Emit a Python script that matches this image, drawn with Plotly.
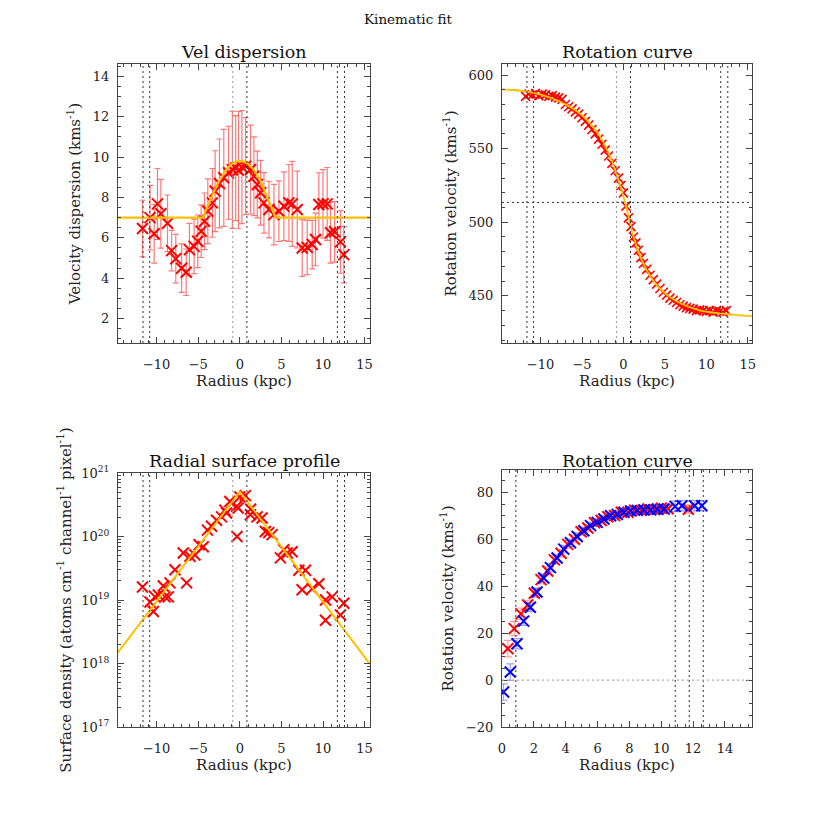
import plotly.graph_objects as go

# ---------------- data ----------------
# Panel 1: velocity dispersion
disp_r = [-11.7, -10.8, -10.3, -9.9, -9.5, -8.7, -8.2, -7.7, -7.0, -6.45, -6.06, -5.5, -5.06, -4.65,
          -4.25, -3.85, -3.3, -2.97, -2.45, -1.93, -1.36, -0.9, -0.5, -0.16, 0.25, 0.69, 1.29, 1.69,
          2.1, 2.5, 2.9, 3.5, 4.1, 4.7, 5.3, 5.9, 6.3, 6.9, 7.5, 8.1, 8.7, 9.1, 9.5, 10.0, 10.5,
          10.9, 11.4, 12.1, 12.5]
disp_v = [6.46, 7.0, 6.2, 7.68, 7.19, 6.72, 5.37, 4.97, 4.5, 4.3, 5.42, 5.58, 5.83, 6.33,
          6.82, 7.32, 7.73, 8.31, 8.69, 8.97, 9.22, 9.37, 9.45, 9.35, 9.5, 9.55, 9.38, 9.05,
          8.64, 8.23, 7.73, 7.4, 7.15, 7.32, 7.56, 7.73, 7.68, 7.4, 5.5, 5.53, 5.67, 5.92, 7.65, 7.68, 7.68,
          6.25, 6.3, 5.8, 5.17]
disp_err = [1.4, 1.6, 1.45, 1.75, 1.7, 1.4, 1.0, 1.2, 1.2, 1.15, 1.3, 1.35, 1.3, 1.3,
            1.4, 1.6, 1.7, 2.0, 2.2, 2.4, 2.3, 2.9, 2.6, 2.9, 2.8, 2.4, 2.2, 1.95,
            1.65, 1.6, 1.5, 1.4, 1.5, 1.5, 1.7, 1.9, 2.1, 1.9, 1.4, 1.35, 1.2, 1.3, 1.57, 1.7, 1.8,
            1.5, 1.5, 1.55, 1.4]
disp_model_r = [-15.0, -4.4, -4.2, -4.0, -3.75, -3.5, -3.0, -2.5, -2.0, -1.5, -1.0, -0.5, 0.0, 0.5, 1.0, 1.5,
                2.0, 2.5, 3.0, 3.5, 3.8, 4.1, 4.3, 16.0]
disp_model_v = [7.0, 7.0, 7.25, 7.45, 7.72, 7.95, 8.4, 8.8, 9.15, 9.45, 9.65, 9.77, 9.8, 9.77, 9.65, 9.45,
                9.15, 8.8, 8.3, 7.8, 7.5, 7.2, 7.0, 7.0]

# Panel 2: rotation curve (line of sight)
rot_r = [-11.8, -11.4, -11.0, -10.6, -10.2, -9.8, -9.4, -9.0, -8.6, -8.2, -7.8, -7.4, -7.0, -6.6,
         -6.2, -5.8, -5.4, -5.0, -4.6, -4.2, -3.8, -3.4, -3.0, -2.6, -2.2, -1.8, -1.4, -1.0, -0.6,
         -0.3, 0.0, 0.3, 0.6, 0.9, 1.2, 1.5, 1.8, 2.1, 2.4, 2.8, 3.2, 3.6, 4.0, 4.4, 4.8, 5.2,
         5.6, 6.0, 6.4, 6.8, 7.2, 7.6, 8.0, 8.4, 8.8, 9.2, 9.6, 10.0, 10.4, 10.8, 11.2, 11.6,
         12.0, 12.4]
rot_v = [585.5, 587.0, 586.5, 587.5, 586.0, 587.0, 586.5, 585.5, 586.0, 585.0, 584.5, 583.5, 580.0, 578.5,
         577.0, 575.0, 573.5, 571.0, 568.5, 566.0, 563.0, 560.0, 556.5, 553.0, 549.0, 545.0, 540.0, 535.0, 530.0,
         525.0, 520.0, 511.0, 503.0, 497.0, 490.0, 486.0, 481.0, 476.0, 472.0, 468.0, 464.0, 461.0, 458.0, 455.0, 452.5, 450.5,
         448.5, 447.0, 445.5, 444.0, 443.0, 442.0, 441.5, 441.0, 440.0, 440.5, 440.0, 439.5, 440.0, 439.0, 440.0, 439.5,
         439.0, 440.0]
rot_model_r = [-14.9, -10.8, -6.8, -4.8, -2.8, -1.6, -0.6, 0.2, 0.8, 1.6, 2.8, 4.4, 6.4, 9.2, 13.2, 15.6]
rot_model_v = [590.3, 587.9, 579.6, 571.7, 558.0, 544.5, 528.6, 513.4, 499.0, 483.3, 467.4, 455.0, 446.3, 440.2, 437.3, 436.2]
v_sys = 513.5

# Panel 3: radial surface profile
surf_r = [-11.7, -10.8, -10.4, -10.2, -9.8, -9.2, -9.0, -8.6, -8.4, -7.8, -6.8, -6.4, -6.0, -5.4,
          -4.9, -4.4, -3.9, -3.4, -2.8, -2.2, -1.6, -1.2, -0.34, -0.2, 0.0, 0.66, 1.27, 2.07,
          2.67, 3.07, 3.88, 4.88, 5.28, 5.7, 6.29, 7.09, 7.49, 7.89, 8.7, 9.5, 10.3, 10.3, 11.1,
          12.1, 12.5, -1.8, -0.38, 1.3, 3.47]
surf_d = [1.6e19, 9.3e18, 6.6e18, 1.12e19, 1.2e19, 1.66e19, 1.12e19, 1.12e19, 1.86e19, 3.0e19, 5.5e19, 1.86e19, 4.9e19, 5.1e19,
          7.4e19, 6.9e19, 1.26e20, 1.45e20, 1.8e20, 2.04e20, 2.34e20, 3.55e20, 1.0e20, 2.8e20, 4.2e20, 4.4e20, 2.2e20, 2.04e20,
          1.95e20, 1.2e20, 1.07e20, 4.6e19, 6.2e19, 5.5e19, 5.75e19, 2.95e19, 1.45e19, 2.95e19, 1.5e19, 1.8e19, 1.0e19, 4.8e18, 1.12e19,
          5.8e18, 8.9e18, 2.6e20, 3.0e20, 2.7e20, 1.15e20]
surf_model_r = [-14.67, 0.0, 15.64]
surf_model_d = [1.48e18, 5.1e20, 9.8e17]

# Panel 4: folded rotation curve, two sides
red_r = [0.37, 0.77, 1.19, 1.61, 2.03, 2.45, 2.87, 3.29, 3.71, 4.13, 4.55, 4.97, 5.39, 5.81, 6.23,
         6.65, 7.07, 7.49, 7.91, 8.33, 8.75, 9.17, 9.59, 10.01, 10.43, 11.7]
red_v = [13.4, 21.9, 28.2, 32.0, 37.0, 42.8, 46.5, 51.2, 54.0, 57.8, 60.0, 63.2, 64.8, 67.0, 68.0,
         69.6, 70.1, 71.5, 71.5, 72.4, 72.3, 72.9, 72.6, 73.2, 73.0, 72.8]
red_err = [3.5, 3.0, 2.5, 2.0, 1.8, 1.8, 1.7, 1.7, 1.6, 1.6, 1.6, 1.5, 1.5, 1.5, 1.5,
           1.5, 1.5, 1.5, 1.5, 1.5, 1.5, 1.5, 1.5, 1.5, 1.5, 1.8]
blue_r = [0.1, 0.52, 0.94, 1.36, 1.78, 2.2, 2.62, 3.04, 3.46, 3.88, 4.3, 4.72, 5.14, 5.56, 5.98,
          6.4, 6.82, 7.24, 7.66, 8.08, 8.5, 8.92, 9.34, 9.76, 10.18, 10.87, 11.3, 12.1, 12.55]
blue_v = [-5.1, 3.4, 15.5, 25.1, 31.0, 37.5, 43.5, 47.9, 52.0, 55.8, 58.5, 61.2, 63.6, 65.8, 67.2,
          68.6, 70.0, 70.6, 71.5, 72.1, 72.3, 72.5, 72.5, 72.8, 72.9, 74.0, 74.3, 74.3, 74.3]
blue_err = [3.5, 3.5, 2.2, 1.8, 1.8, 1.7, 1.7, 1.7, 1.6, 1.6, 1.6, 1.5, 1.5, 1.5, 1.5,
            1.5, 1.5, 1.5, 1.5, 1.5, 1.5, 1.5, 1.5, 1.5, 1.5, 2.2, 2.2, 2.2, 2.2]

vlines_full = [-11.64, -10.84, -0.85, 0.85, 11.73, 12.58]
vlines_half = [0.87, 10.88, 11.76, 12.64]

# ---------------- figure ----------------
FONT = "DejaVu Serif"
RED = "#ff0000"
ORANGE = "#ffc000"
BLUE = "#0000ff"

fig = go.Figure()

def xs(i):
    return dict(xaxis=f"x{i}" if i > 1 else "x", yaxis=f"y{i}" if i > 1 else "y")

# panel 1
fig.add_trace(go.Scatter(x=disp_r, y=disp_v, mode="markers",
                         error_y=dict(type="data", array=disp_err, color="rgba(255,30,30,0.6)", thickness=1.2, width=3),
                         marker=dict(symbol="x-thin", size=11, line=dict(width=2, color=RED), color=RED),
                         **xs(1)))
fig.add_trace(go.Scatter(x=disp_model_r, y=disp_model_v, mode="lines",
                         line=dict(color=ORANGE, width=2.2), **xs(1)))
# panel 2
fig.add_trace(go.Scatter(x=rot_r, y=rot_v, mode="markers",
                         marker=dict(symbol="x-thin", size=9, line=dict(width=1.6, color=RED), color=RED),
                         **xs(2)))
fig.add_trace(go.Scatter(x=rot_model_r, y=rot_model_v, mode="lines",
                         line=dict(color=ORANGE, width=1.8, shape="spline"), **xs(2)))
# panel 3
fig.add_trace(go.Scatter(x=surf_r, y=surf_d, mode="markers",
                         marker=dict(symbol="x-thin", size=11, line=dict(width=2, color=RED), color=RED),
                         **xs(3)))
fig.add_trace(go.Scatter(x=surf_model_r, y=surf_model_d, mode="lines", line=dict(color=ORANGE, width=2), **xs(3)))
# panel 4
fig.add_trace(go.Scatter(x=red_r, y=red_v, mode="markers",
                         error_y=dict(type="data", array=red_err, color="rgba(255,60,60,0.5)", thickness=1.2, width=4),
                         marker=dict(symbol="x-thin", size=11, line=dict(width=2, color=RED), color=RED),
                         **xs(4)))
fig.add_trace(go.Scatter(x=blue_r, y=blue_v, mode="markers",
                         error_y=dict(type="data", array=blue_err, color="rgba(60,60,255,0.5)", thickness=1.2, width=4),
                         marker=dict(symbol="x-thin", size=11, line=dict(width=2, color=BLUE), color=BLUE),
                         **xs(4)))

# the page puts the figure 8px in from the top-left corner of the window
OFF = 8
W = H = 817 - 2 * OFF
def fx(a, b):
    return [(a - OFF) / W, (b - OFF) / W]
def fy(top, bottom):
    return [(H - (bottom - OFF)) / H, (H - (top - OFF)) / H]
def px(x):
    return (x - OFF) / W
def py(y):
    return (H - (y - OFF)) / H

base = dict(showline=True, linecolor="#444", linewidth=1, mirror="allticks", ticks="inside",
            ticklen=6, tickcolor="#444", showgrid=False, zeroline=False, automargin=False,
            tickfont=dict(family=FONT, size=13, color="#222"),
            title_font=dict(family=FONT, size=15, color="#222"))

def ax(**kw):
    d = dict(base)
    d.update(kw)
    return d

minor_x = dict(ticks="inside", ticklen=3, tickcolor="#444", dtick=1)
xtv = [-10, -5, 0, 5, 10, 15]
log_minor = [float(m) * 10.0 ** e for e in range(17, 21) for m in range(2, 10)]
XSO = 9   # x tick label standoff
YSO = 5   # y tick label standoff

fig.update_layout(
    width=W, height=H, margin=dict(l=0, r=0, t=0, b=0, autoexpand=False),
    paper_bgcolor="white", plot_bgcolor="white", showlegend=False,
    xaxis=ax(domain=fx(118, 370), range=[-14.65, 15.65], tickvals=xtv, minor=minor_x, ticklabelstandoff=XSO,
             title=dict(text="Radius (kpc)", standoff=2), anchor="y"),
    yaxis=ax(domain=fy(64, 343), range=[0.8, 14.6], dtick=2, tick0=0, ticklabelstandoff=YSO,
             minor=dict(ticks="inside", ticklen=3, tickcolor="#444", dtick=0.5),
             title=dict(text="Velocity dispersion (kms<sup>-1</sup>)", standoff=8), anchor="x"),
    xaxis2=ax(domain=fx(502, 752), range=[-14.65, 15.5], tickvals=xtv, minor=minor_x, ticklabelstandoff=XSO,
              title=dict(text="Radius (kpc)", standoff=2), anchor="y2"),
    yaxis2=ax(domain=fy(64, 343), range=[418, 607.5], tickvals=[450, 500, 550, 600], ticklabelstandoff=YSO,
              minor=dict(ticks="inside", ticklen=3, tickcolor="#444", dtick=10),
              title=dict(text="Rotation velocity (kms<sup>-1</sup>)", standoff=8), anchor="x2"),
    xaxis3=ax(domain=fx(118, 370), range=[-14.65, 15.65], tickvals=xtv, minor=minor_x, ticklabelstandoff=XSO,
              title=dict(text="Radius (kpc)", standoff=2), anchor="y3"),
    yaxis3=ax(domain=fy(473, 727), type="log", range=[17, 21], ticklabelstandoff=YSO,
              tickvals=[1e17, 1e18, 1e19, 1e20, 1e21],
              ticktext=["10<sup>17</sup>", "10<sup>18</sup>", "10<sup>19</sup>", "10<sup>20</sup>", "10<sup>21</sup>"],
              minor=dict(ticks="inside", ticklen=3, tickcolor="#444", tickvals=log_minor),
              title=dict(text="Surface density (atoms cm<sup>-1</sup> channel<sup>-1</sup> pixel<sup>-1</sup>)", standoff=6),
              anchor="x3"),
    xaxis4=ax(domain=fx(502, 752), range=[0, 15.7], tickvals=[0, 2, 4, 6, 8, 10, 12, 14], ticklabelstandoff=XSO,
              minor=dict(ticks="inside", ticklen=3, tickcolor="#444", dtick=0.5),
              title=dict(text="Radius (kpc)", standoff=2), anchor="y4"),
    yaxis4=ax(domain=fy(470, 727), range=[-20, 89.5], tickvals=[-20, 0, 20, 40, 60, 80], ticklabelstandoff=YSO,
              minor=dict(ticks="inside", ticklen=3, tickcolor="#444", dtick=5),
              title=dict(text="Rotation velocity (kms<sup>-1</sup>)", standoff=8), anchor="x4"),
)

DOT = "2px,3px"
shapes = []
def vline(x, xr, yr, color="#333"):
    shapes.append(dict(type="line", xref=xr, yref=yr + " domain", x0=x, x1=x, y0=0, y1=1,
                       line=dict(color=color, width=1, dash=DOT)))
for xr, yr in [("x", "y"), ("x2", "y2"), ("x3", "y3")]:
    for v in vlines_full:
        vline(v, xr, yr, "#999" if v == vlines_full[2] else "#333")
for v in vlines_half:
    vline(v, "x4", "y4")
shapes.append(dict(type="line", xref="x2 domain", yref="y2", x0=0, x1=1, y0=v_sys, y1=v_sys,
                   line=dict(color="#333", width=1, dash=DOT)))
shapes.append(dict(type="line", xref="x4 domain", yref="y4", x0=0, x1=1, y0=0, y1=0,
                   line=dict(color="#aaa", width=1.3, dash="2px,3px")))
fig.update_layout(shapes=shapes)

titles = [("Vel dispersion", (118 + 370) / 2, 52), ("Rotation curve", (502 + 752) / 2, 52),
          ("Radial surface profile", (118 + 370) / 2, 461), ("Rotation curve", (502 + 752) / 2, 461)]
ann = [dict(text=t, x=px(x), y=py(y), xref="paper", yref="paper", showarrow=False,
            font=dict(family=FONT, size=17.5, color="#111"), xanchor="center", yanchor="middle")
       for t, x, y in titles]
ann.append(dict(text="Kinematic fit", x=px(408), y=py(19), xref="paper", yref="paper", showarrow=False,
                font=dict(family=FONT, size=13.5, color="#111"), xanchor="center", yanchor="middle"))
fig.update_layout(annotations=ann)

fig.write_html("out.html")
